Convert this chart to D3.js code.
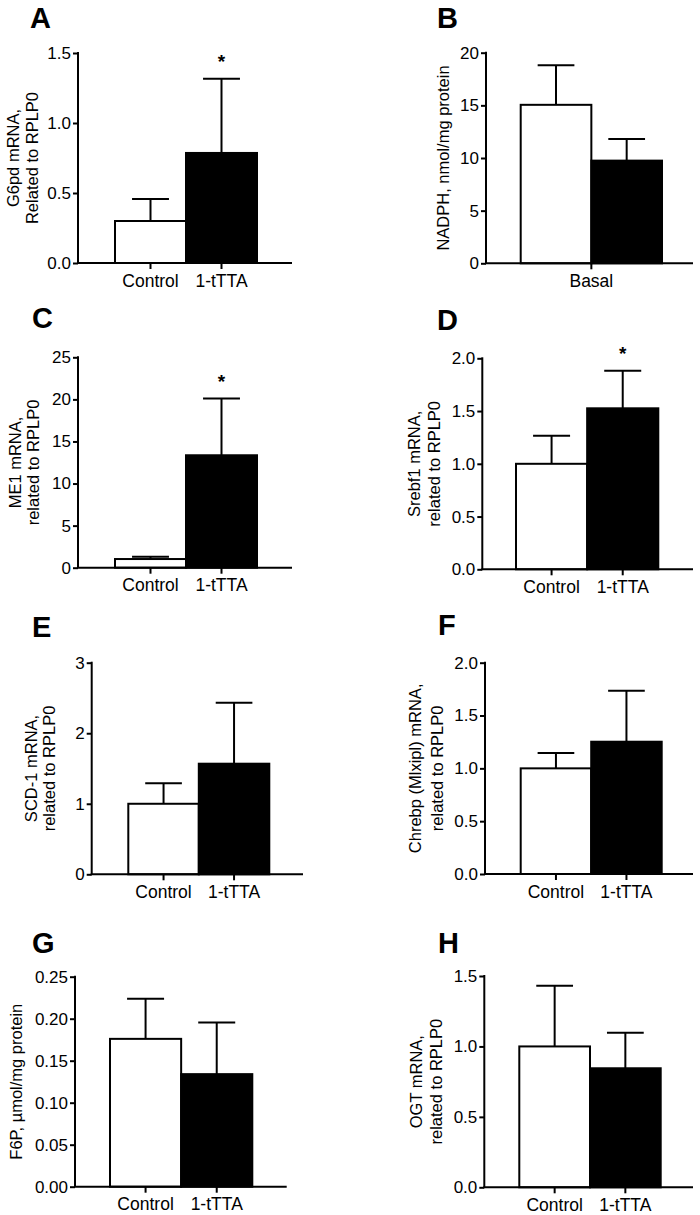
<!DOCTYPE html>
<html>
<head>
<meta charset="utf-8">
<script src="https://cdn.jsdelivr.net/npm/d3@7"></script>
<style>
  html, body { margin: 0; padding: 0; background: #fff; }
  svg { display: block; }
  text { font-family: "Liberation Sans", Arial, Helvetica, sans-serif; fill: #000; }
</style>
</head>
<body>
<svg id="chart" width="700" height="1215"></svg>
<script>
// ---------- DATA ----------
const panelLetters = ["A", "B", "C", "D", "E", "F", "G", "H"];
const yLabelLines = [
  ["G6pd mRNA,", "Related to RPLP0"],
  ["NADPH, nmol/mg protein"],
  ["ME1 mRNA,", "related to RPLP0"],
  ["Srebf1 mRNA,", "related to RPLP0"],
  ["SCD-1 mRNA,", "related to RPLP0"],
  ["Chrebp (Mlxipl) mRNA,", "related to RPLP0"],
  ["F6P, \u00b5mol/mg protein"],
  ["OGT mRNA,", "related to RPLP0"]
];
const groups = ["Control", "1-tTTA"];
const basalLabel = ["Basal"];
const yMaxes = [1.5, 20, 25, 2.0, 3, 2.0, 0.25, 1.5];
const yTickValues = [
  [0, 0.5, 1.0, 1.5],
  [0, 5, 10, 15, 20],
  [0, 5, 10, 15, 20, 25],
  [0, 0.5, 1.0, 1.5, 2.0],
  [0, 1, 2, 3],
  [0, 0.5, 1.0, 1.5, 2.0],
  [0, 0.05, 0.10, 0.15, 0.20, 0.25],
  [0, 0.5, 1.0, 1.5]
];
const yTickFormats = [".1f", "d", "d", ".1f", "d", ".1f", ".2f", ".1f"];
const controlMeans = [0.30, 15.05, 1.03, 1.00, 1.00, 1.00, 0.176, 1.00];
const controlErrors = [0.157, 3.75, 0.27, 0.266, 0.29, 0.145, 0.0477, 0.431];
const tttaMeans = [0.786, 9.75, 13.36, 1.526, 1.568, 1.252, 0.134, 0.845];
const tttaErrors = [0.53, 2.05, 6.74, 0.357, 0.865, 0.483, 0.0614, 0.2525];
const significant = [true, false, true, true, false, false, false, false];
const singleGroupPanels = ["B"];

// ---------- LAYOUT ----------
const layout = [
  {ax: 78,    top: 53,    bot: 263,    xEnd: 292,   b0: 115,   b1: 257,   lx: 30,  ly: 28,  yl: [18.5, 37.5]},
  {ax: 486,   top: 52.7,  bot: 263.3,  xEnd: 693,   b0: 520.7, b1: 662,   lx: 437, ly: 28,  yl: [449]},
  {ax: 78,    top: 357.3, bot: 567.7,  xEnd: 292,   b0: 115,   b1: 257,   lx: 32,  ly: 328, yl: [21, 39]},
  {ax: 482.3, top: 358.3, bot: 569.3,  xEnd: 693,   b0: 516,   b1: 658.3, lx: 437, ly: 330, yl: [420, 440]},
  {ax: 91.7,  top: 662.7, bot: 874.3,  xEnd: 303,   b0: 128.3, b1: 269.3, lx: 32,  ly: 637, yl: [37, 55]},
  {ax: 485,   top: 662.7, bot: 874,    xEnd: 693,   b0: 520.7, b1: 661.7, lx: 438, ly: 635, yl: [421, 443]},
  {ax: 75,    top: 976.7, bot: 1186.7, xEnd: 286.7, b0: 110,   b1: 252.3, lx: 32,  ly: 953, yl: [22]},
  {ax: 484.3, top: 976,   bot: 1187.3, xEnd: 693,   b0: 519.3, b1: 660.7, lx: 438, ly: 953, yl: [422, 442]}
];

const svg = d3.select("#chart");
const SW = 2;

panelLetters.forEach((letter, i) => {
  const L = layout[i];
  const g = svg.append("g");
  const y = d3.scaleLinear().domain([0, yMaxes[i]]).range([L.bot, L.top]);
  const x = d3.scaleBand().domain(groups).range([L.b0, L.b1]).padding(0);
  const bw = x.bandwidth();
  const means = [controlMeans[i], tttaMeans[i]];
  const errs = [controlErrors[i], tttaErrors[i]];
  const fills = ["#fff", "#000"];

  // panel letter
  g.append("text").attr("x", L.lx).attr("y", L.ly)
    .style("font-size", "29px").style("font-weight", "bold").text(letter);

  // error bars (upper only)
  groups.forEach((grp, k) => {
    const cx = x(grp) + bw / 2;
    const capW = bw * 0.52;
    g.append("line").attr("x1", cx).attr("x2", cx)
      .attr("y1", y(means[k])).attr("y2", y(means[k] + errs[k]))
      .attr("stroke", "#000").attr("stroke-width", SW);
    g.append("line").attr("x1", cx - capW / 2).attr("x2", cx + capW / 2)
      .attr("y1", y(means[k] + errs[k])).attr("y2", y(means[k] + errs[k]))
      .attr("stroke", "#000").attr("stroke-width", SW);
  });

  // bars
  g.selectAll("rect.bar").data(groups).enter().append("rect")
    .attr("class", "bar")
    .attr("x", d => x(d))
    .attr("width", bw)
    .attr("y", (d, k) => y(means[k]))
    .attr("height", (d, k) => L.bot - y(means[k]))
    .attr("fill", (d, k) => fills[k])
    .attr("stroke", "#000").attr("stroke-width", SW);

  // y axis
  const yAxis = d3.axisLeft(y).tickValues(yTickValues[i])
    .tickFormat(d3.format(yTickFormats[i])).tickSize(5).tickPadding(2);
  const ya = g.append("g").attr("transform", `translate(${L.ax},0)`).call(yAxis);
  ya.select(".domain").remove();
  ya.selectAll(".tick line").attr("stroke", "#000").attr("stroke-width", SW);
  ya.selectAll(".tick text").style("font-size", "17px")
    .style("font-family", '"Liberation Sans", Arial, sans-serif').attr("fill", "#000");
  g.append("line").attr("x1", L.ax).attr("x2", L.ax).attr("y1", L.top - 1).attr("y2", L.bot)
    .attr("stroke", "#000").attr("stroke-width", SW);

  // x axis
  g.append("line").attr("x1", L.ax - 1).attr("x2", L.xEnd).attr("y1", L.bot).attr("y2", L.bot)
    .attr("stroke", "#000").attr("stroke-width", SW);
  const isSingle = singleGroupPanels.includes(letter);
  const xTicks = isSingle
    ? basalLabel.map(t => ({label: t, cx: (L.b0 + L.b1) / 2}))
    : groups.map(t => ({label: t, cx: x(t) + bw / 2}));
  xTicks.forEach(t => {
    g.append("line").attr("x1", t.cx).attr("x2", t.cx).attr("y1", L.bot).attr("y2", L.bot + 6)
      .attr("stroke", "#000").attr("stroke-width", SW);
    g.append("text").attr("x", t.cx).attr("y", L.bot + 23.5)
      .attr("text-anchor", "middle").style("font-size", "17.5px").text(t.label);
  });

  // y label
  const cy = (L.top + L.bot) / 2;
  yLabelLines[i].forEach((line, j) => {
    g.append("text")
      .attr("transform", `translate(${L.yl[j]},${cy}) rotate(-90)`)
      .attr("text-anchor", "middle").style("font-size", "16.5px").text(line);
  });

  // significance
  if (significant[i]) {
    const top = y(tttaMeans[i] + tttaErrors[i]);
    g.append("text").attr("x", x(groups[1]) + bw / 2).attr("y", top - 11)
      .attr("text-anchor", "middle").style("font-size", "19px").style("font-weight", "bold").text("*");
  }
});
</script>
</body>
</html>
